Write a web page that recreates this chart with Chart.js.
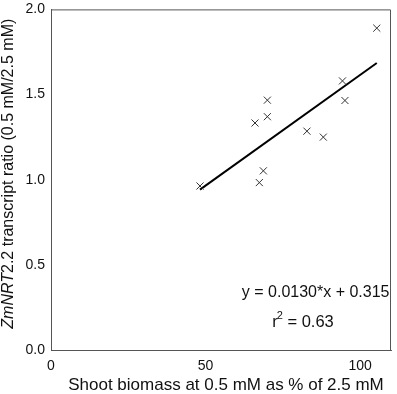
<!DOCTYPE html>
<html><head><meta charset="utf-8">
<script src="https://cdn.jsdelivr.net/npm/chart.js@4/dist/chart.umd.min.js"></script>
<style>html,body{margin:0;padding:0;background:#fff}#wrap{width:397px;height:394px}</style>
</head><body><div id="wrap"><canvas id="c" width="397" height="394"></canvas></div>
<script>
const biomass = [48.2, 67.4, 68.7, 66.0, 70.0, 70.0, 82.8, 88.1, 94.3, 95.1, 105.4];
const ratio   = [0.963, 0.983, 1.052, 1.333, 1.37, 1.467, 1.285, 1.25, 1.58, 1.465, 1.89];
const slope = 0.0130, intercept = 0.315;
const xTicks = [0, 50, 100];
const yTicks = [0.0, 0.5, 1.0, 1.5, 2.0];
const eqText = "y = 0.0130*x + 0.315";
const r2Text = " = 0.63";
const xTitle = "Shoot biomass at 0.5 mM as % of 2.5 mM";

const pts = biomass.map((x,i)=>({x, y: ratio[i]}));
const xmin = Math.min(...biomass), xmax = Math.max(...biomass);
const fit = [xmin, xmax].map(x=>({x, y: slope*x + intercept}));
const FONT = '"Liberation Sans", Arial, sans-serif';
const AX = '#555';

const deco = {
  id:'deco',
  afterDraw(chart){
    const {ctx, chartArea:a} = chart;
    ctx.save();
    ctx.strokeStyle = AX; ctx.lineWidth = 1;
    ctx.beginPath();
    ctx.moveTo(a.left, a.top+0.5); ctx.lineTo(a.right-0.5, a.top+0.5); ctx.lineTo(a.right-0.5, a.bottom);
    ctx.stroke();
    ctx.fillStyle = '#111';
    ctx.font = '16px ' + FONT;
    ctx.textBaseline = 'middle';
    ctx.textAlign = 'right';
    ctx.fillText(eqText, a.right - 1.5, 293);
    // r^2
    ctx.font = '16.5px ' + FONT;
    const rW = ctx.measureText('r').width;
    ctx.font = '11px ' + FONT;
    const sW = ctx.measureText('2').width;
    ctx.font = '16.5px ' + FONT;
    const restW = ctx.measureText(r2Text).width;
    const total = rW + sW + restW;
    let x0 = 303.5 - total/2;
    ctx.textAlign = 'left';
    ctx.fillText('r', x0, 322);
    ctx.font = '11px ' + FONT;
    ctx.fillText('2', x0 + rW - 1, 316);
    ctx.font = '16.5px ' + FONT;
    ctx.fillText(r2Text, x0 + rW + sW - 1, 322);
    // x title
    ctx.font = '17px ' + FONT;
    ctx.textAlign = 'center';
    ctx.fillText(xTitle, (a.left + a.right)/2 + 5, 385);
    // y title
    ctx.textAlign = 'left';
    ctx.translate(9, (a.top + a.bottom)/2 - 6);
    ctx.rotate(-Math.PI/2);
    const parts = [['italic 16px ', 'ZmNRT'], ['16px ', '2.2 transcript ratio (0.5 mM/2.5 mM)']];
    let w = 0;
    parts.forEach(p=>{ctx.font = p[0]+FONT; w += ctx.measureText(p[1]).width;});
    let cx = -w/2;
    parts.forEach(p=>{ctx.font = p[0]+FONT; ctx.fillText(p[1], cx, 0); cx += ctx.measureText(p[1]).width;});
    ctx.restore();
  }
};

new Chart(document.getElementById('c'), {
  type:'scatter',
  data:{datasets:[
    {data: pts, pointStyle:'crossRot', pointRadius:5, borderColor:'#333', borderWidth:1, backgroundColor:'#333', showLine:false},
    {type:'line', data: fit, borderColor:'#000', borderWidth:2, pointRadius:0, fill:false}
  ]},
  options:{
    responsive:false, animation:false, devicePixelRatio:1,
    layout:{padding:{top:6, right:3, left:0, bottom:0}},
    plugins:{legend:{display:false}, tooltip:{enabled:false}},
    scales:{
      x:{type:'linear', min:0, max:110,
        afterBuildTicks(s){ s.ticks = xTicks.map(v=>({value:v})); },
        afterFit(s){ s.height = 44; },
        grid:{display:false, drawTicks:true, tickLength:6, tickColor:AX},
        border:{display:true, color:AX, width:1},
        ticks:{color:'#111', font:{family:FONT, size:14}, padding:2, maxRotation:0},
        title:{display:false}
      },
      y:{type:'linear', min:0, max:2,
        afterBuildTicks(s){ s.ticks = yTicks.map(v=>({value:v})); },
        afterFit(s){ s.width = 51; },
        grid:{display:false, drawTicks:true, tickLength:5, tickColor:AX},
        border:{display:true, color:AX, width:1},
        ticks:{color:'#111', font:{family:FONT, size:14}, padding:1, callback:v=>v.toFixed(1)}
      }
    }
  },
  plugins:[deco]
});
</script></body></html>
